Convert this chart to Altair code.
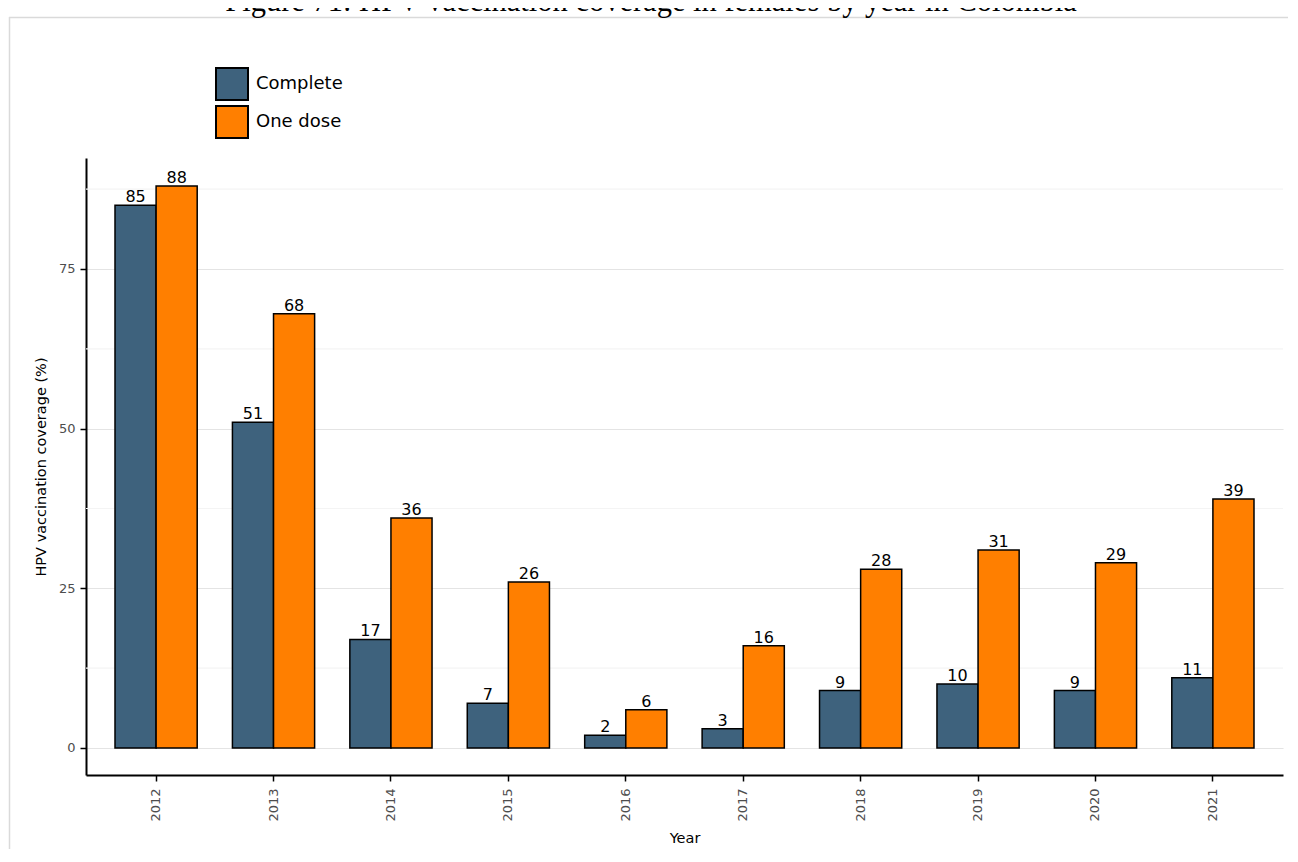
import altair as alt
import pandas as pd

# ---- data ----
years = ["2012", "2013", "2014", "2015", "2016", "2017", "2018", "2019", "2020", "2021"]
complete = [85, 51, 17, 7, 2, 3, 9, 10, 9, 11]
one_dose = [88, 68, 36, 26, 6, 16, 28, 31, 29, 39]
series = ["Complete", "One dose"]
colors = ["#3e627d", "#ff7f00"]
major_ticks = [0, 25, 50, 75]
minor_ticks = [12.5, 37.5, 62.5, 87.5]
title_text = "Figure 71: HPV vaccination coverage in females by year in Colombia"
x_title = "Year"
y_title = "HPV vaccination coverage (%)"

rows = []
for i, yr in enumerate(years):
    rows.append({"year": yr, "series": series[0], "value": complete[i]})
    rows.append({"year": yr, "series": series[1], "value": one_dose[i]})
df = pd.DataFrame(rows)

W, H = 1197, 617
FONT = "DejaVu Sans"

yscale = alt.Scale(domain=[-4.23, 92.38], nice=False, zero=False)
yaxis = alt.Axis(
    values=major_ticks, grid=True, gridColor="#e4e4e4", gridWidth=1.2,
    domainColor="black", domainWidth=2, tickColor="black", tickWidth=1.5, tickSize=6,
    labelColor="#4d4d4d", labelFontSize=13, labelFont=FONT, labelPadding=5,
    titleFont=FONT, titleFontSize=14.5, titleFontWeight="normal", titleColor="black",
    titlePadding=10,
)
xaxis = alt.Axis(
    grid=False, labelAngle=270, domainColor="black", domainWidth=2,
    tickColor="black", tickWidth=1.5, tickSize=6,
    labelColor="#4d4d4d", labelFontSize=13, labelFont=FONT, labelPadding=7,
    titleFont=FONT, titleFontSize=14.5, titleFontWeight="normal", titleColor="black",
    titlePadding=10,
)
x_enc = alt.X("year:N", sort=years, title=x_title, axis=xaxis,
              scale=alt.Scale(paddingInner=0.3, paddingOuter=0.247))
xoff = alt.XOffset("series:N", sort=series, scale=alt.Scale(paddingInner=0, paddingOuter=0))
y_enc = alt.Y("value:Q", title=y_title, scale=yscale, axis=yaxis)

minor = alt.Chart(pd.DataFrame({"value": minor_ticks})).mark_rule(
    color="#f4f4f4", strokeWidth=1.2
).encode(y=y_enc, x=alt.value(0), x2=alt.value(W))

bars = alt.Chart(df).mark_bar(stroke="black", strokeWidth=1.5).encode(
    x=x_enc, xOffset=xoff, y=y_enc, y2=alt.datum(0),
    fill=alt.Fill("series:N", sort=series,
                  scale=alt.Scale(domain=series, range=colors),
                  legend=alt.Legend(title=None, orient="none", legendX=129, legendY=-91,
                                    symbolType="square", symbolSize=1024,
                                    symbolStrokeColor="black", symbolStrokeWidth=2,
                                    symbolOpacity=1,
                                    labelFont=FONT, labelFontSize=18, labelColor="black",
                                    labelOffset=7, rowPadding=-2, padding=0)),
)

labels = alt.Chart(df).mark_text(
    font=FONT, fontSize=16, color="black", baseline="alphabetic", align="center", dy=-3
).encode(x=x_enc, xOffset=xoff, y=y_enc, text=alt.Text("value:Q"))

title = alt.Chart(pd.DataFrame({"label": [title_text]})).mark_text(
    font="Liberation Serif", fontSize=30.5, align="center", baseline="alphabetic", color="black"
).encode(x=alt.value(565), y=alt.value(-147), text=alt.Text("label:N"))

# light frame around the figure (top and left edges visible in the reference)
frame_top = alt.Chart(pd.DataFrame({"k": [0]})).mark_rule(
    color="#dadada", strokeWidth=1.5
).encode(x=alt.value(-77), x2=alt.value(1400), y=alt.value(-140.5))
frame_left = alt.Chart(pd.DataFrame({"k": [0]})).mark_rule(
    color="#dadada", strokeWidth=1.5
).encode(x=alt.value(-76.5), y=alt.value(-141), y2=alt.value(900))

chart = alt.layer(frame_top, frame_left, title, minor, bars, labels).properties(
    width=W, height=H,
    autosize=alt.AutoSizeParams(type="none"),
    padding={"left": 78, "top": 150, "right": 5, "bottom": 74},
).configure_view(strokeWidth=0)

chart.save("out.html", embed_options={"renderer": "svg", "actions": False})
